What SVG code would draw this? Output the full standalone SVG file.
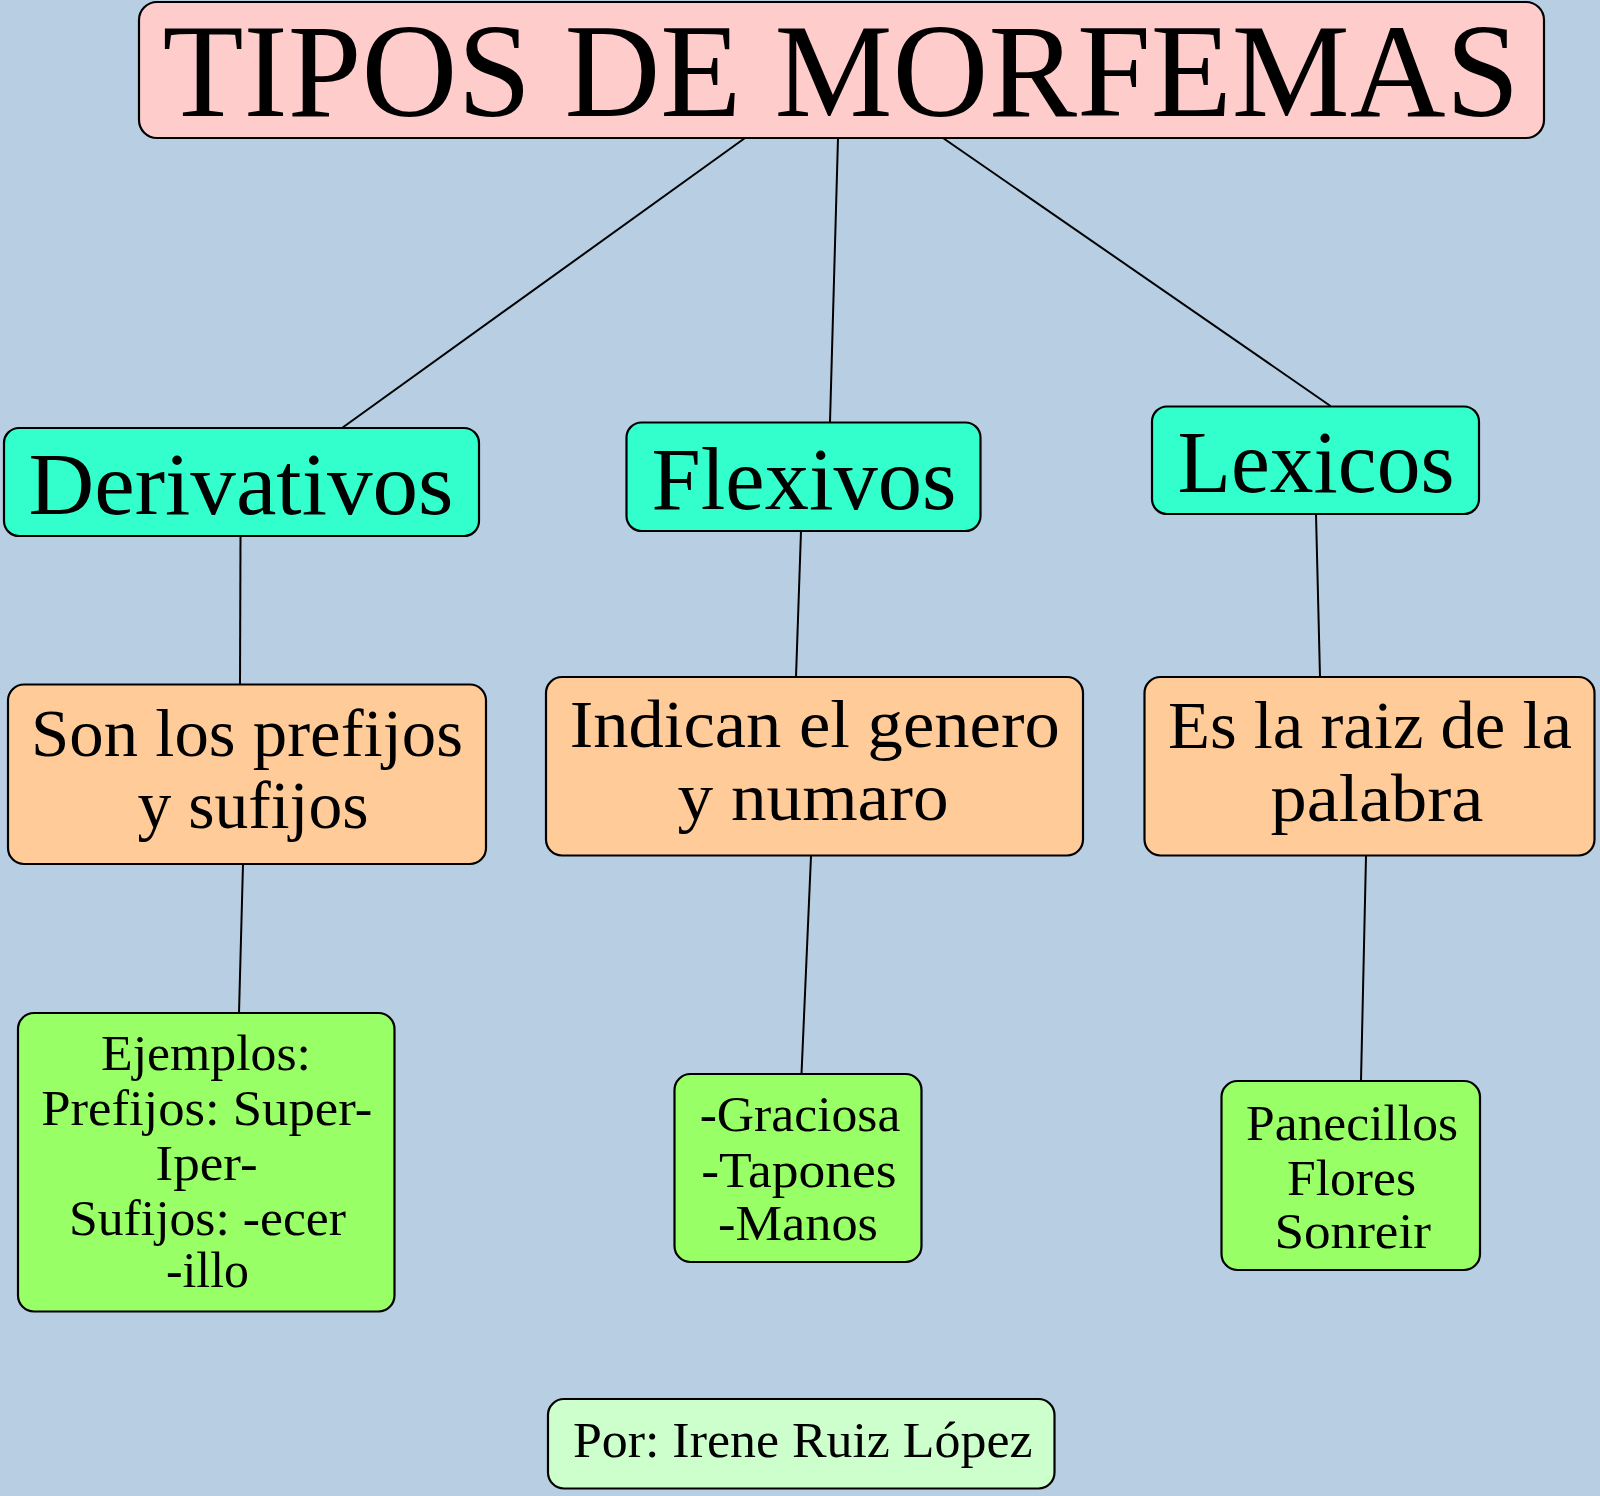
<svg xmlns="http://www.w3.org/2000/svg" width="1600" height="1496" viewBox="0 0 1600 1496">
<style>
.bx{stroke:#000;stroke-width:2.2}
.t{font-family:"Liberation Serif","Times New Roman",serif;fill:#000;text-anchor:middle}
.c line{stroke:#000;stroke-width:2}
</style>
<rect x="0" y="0" width="1600" height="1496" fill="#b8cfe3"/>
<g class="c" id="connectors">
<line x1="745" y1="138" x2="342" y2="428"/>
<line x1="838" y1="138" x2="830" y2="422"/>
<line x1="943" y1="138" x2="1330.5" y2="406"/>
<line x1="240.5" y1="536" x2="240" y2="684"/>
<line x1="243" y1="864" x2="239" y2="1013"/>
<line x1="801" y1="531" x2="796" y2="677"/>
<line x1="811" y1="856" x2="801.5" y2="1074"/>
<line x1="1316" y1="514" x2="1320" y2="677"/>
<line x1="1366" y1="856" x2="1361" y2="1081"/>
</g>
<g id="title">
<rect class="bx" x="139" y="2" width="1405" height="136" rx="18" fill="#ffcccc"/>
<text class="t" x="841" y="116" font-size="134" textLength="1357" lengthAdjust="spacingAndGlyphs">TIPOS DE MORFEMAS</text>
</g>
<g id="derivativos">
<rect class="bx" x="4" y="428" width="475" height="108" rx="15" fill="#33ffcc"/>
<text class="t" x="241" y="514" font-size="88" textLength="425" lengthAdjust="spacingAndGlyphs">Derivativos</text>
</g>
<g id="flexivos">
<rect class="bx" x="626.5" y="422.5" width="354" height="108.5" rx="15" fill="#33ffcc"/>
<text class="t" x="804" y="509" font-size="88" textLength="305" lengthAdjust="spacingAndGlyphs">Flexivos</text>
</g>
<g id="lexicos">
<rect class="bx" x="1152" y="406.5" width="327" height="107.5" rx="15" fill="#33ffcc"/>
<text class="t" x="1316" y="492" font-size="88" textLength="277" lengthAdjust="spacingAndGlyphs">Lexicos</text>
</g>
<g id="son">
<rect class="bx" x="8" y="684.5" width="478" height="179.5" rx="16" fill="#ffcc99"/>
<text class="t" x="247" y="756" font-size="68" textLength="432" lengthAdjust="spacingAndGlyphs">Son los prefijos</text>
<text class="t" x="253" y="828" font-size="68" textLength="231" lengthAdjust="spacingAndGlyphs">y sufijos</text>
</g>
<g id="indican">
<rect class="bx" x="546" y="677" width="537" height="178.5" rx="16" fill="#ffcc99"/>
<text class="t" x="814.7" y="747" font-size="68" textLength="490" lengthAdjust="spacingAndGlyphs">Indican el genero</text>
<text class="t" x="813" y="820" font-size="68" textLength="271" lengthAdjust="spacingAndGlyphs">y numaro</text>
</g>
<g id="raiz">
<rect class="bx" x="1144.5" y="677" width="450" height="178.5" rx="16" fill="#ffcc99"/>
<text class="t" x="1370" y="747.5" font-size="68" textLength="404" lengthAdjust="spacingAndGlyphs">Es la raiz de la</text>
<text class="t" x="1377" y="821" font-size="68" textLength="213" lengthAdjust="spacingAndGlyphs">palabra</text>
</g>
<g id="ejemplos">
<rect class="bx" x="18" y="1013" width="376.5" height="298.5" rx="16" fill="#99ff66"/>
<text class="t" x="206" y="1070" font-size="50" textLength="210" lengthAdjust="spacingAndGlyphs">Ejemplos:</text>
<text class="t" x="206.7" y="1125" font-size="50" textLength="331" lengthAdjust="spacingAndGlyphs">Prefijos: Super-</text>
<text class="t" x="206.6" y="1180" font-size="50" textLength="102" lengthAdjust="spacingAndGlyphs">Iper-</text>
<text class="t" x="207.5" y="1234.5" font-size="50" textLength="277" lengthAdjust="spacingAndGlyphs">Sufijos: -ecer</text>
<text class="t" x="207.4" y="1287" font-size="50" textLength="83" lengthAdjust="spacingAndGlyphs">-illo</text>
</g>
<g id="graciosa">
<rect class="bx" x="674.5" y="1074" width="247" height="188" rx="16" fill="#99ff66"/>
<text class="t" x="800" y="1130.7" font-size="50" textLength="200.7" lengthAdjust="spacingAndGlyphs">-Graciosa</text>
<text class="t" x="799" y="1186.7" font-size="50" textLength="195.4" lengthAdjust="spacingAndGlyphs">-Tapones</text>
<text class="t" x="798" y="1240" font-size="50" textLength="160" lengthAdjust="spacingAndGlyphs">-Manos</text>
</g>
<g id="panecillos">
<rect class="bx" x="1221.5" y="1081" width="258.5" height="189" rx="16" fill="#99ff66"/>
<text class="t" x="1352" y="1139.8" font-size="50" textLength="212" lengthAdjust="spacingAndGlyphs">Panecillos</text>
<text class="t" x="1351.5" y="1194.5" font-size="50" textLength="129" lengthAdjust="spacingAndGlyphs">Flores</text>
<text class="t" x="1352.7" y="1248.4" font-size="50" textLength="156.5" lengthAdjust="spacingAndGlyphs">Sonreir</text>
</g>
<g id="autor">
<rect class="bx" x="548" y="1399" width="506.5" height="89.5" rx="16" fill="#ccffcc"/>
<text class="t" x="802.7" y="1456.7" font-size="51" textLength="459.6" lengthAdjust="spacingAndGlyphs">Por: Irene Ruiz López</text>
</g>
</svg>
